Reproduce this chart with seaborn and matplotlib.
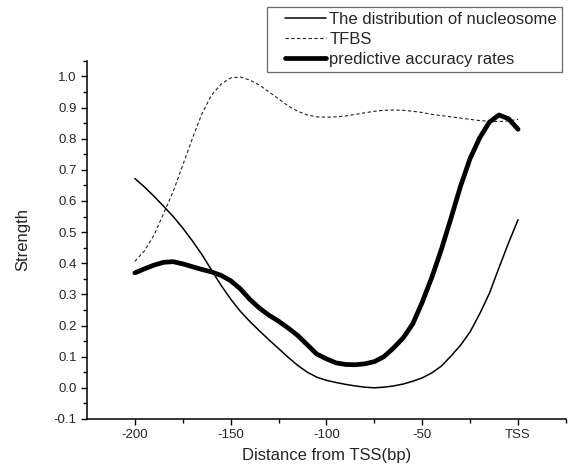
import matplotlib
matplotlib.use("Agg")
import matplotlib.pyplot as plt
from matplotlib.ticker import MultipleLocator, FixedLocator, FixedFormatter
from matplotlib.legend_handler import HandlerLine2D
import seaborn as sns

# distance from TSS (bp), sampled every 5 bp
distance = [-200, -195, -190, -185, -180, -175, -170, -165, -160, -155,
            -150, -145, -140, -135, -130, -125, -120, -115, -110, -105,
            -100, -95, -90, -85, -80, -75, -70, -65, -60, -55,
            -50, -45, -40, -35, -30, -25, -20, -15, -10, -5, 0]

nucleosome = [0.672, 0.645, 0.615, 0.583, 0.550, 0.513, 0.472, 0.428, 0.378, 0.329,
              0.285, 0.246, 0.213, 0.183, 0.154, 0.126, 0.098, 0.072, 0.050, 0.034,
              0.024, 0.017, 0.011, 0.006, 0.002, 0.000, 0.002, 0.006, 0.012, 0.021,
              0.032, 0.048, 0.070, 0.102, 0.137, 0.180, 0.238, 0.303, 0.385, 0.465, 0.540]

tfbs = [0.406, 0.440, 0.490, 0.560, 0.630, 0.715, 0.800, 0.880, 0.940, 0.975,
        0.995, 0.998, 0.988, 0.972, 0.950, 0.928, 0.905, 0.888, 0.876, 0.870,
        0.869, 0.870, 0.873, 0.878, 0.883, 0.888, 0.891, 0.892, 0.891, 0.888,
        0.884, 0.878, 0.874, 0.870, 0.866, 0.862, 0.858, 0.856, 0.855, 0.857, 0.862]

accuracy = [0.369, 0.382, 0.394, 0.403, 0.405, 0.398, 0.389, 0.380, 0.372, 0.361,
            0.344, 0.318, 0.284, 0.256, 0.233, 0.214, 0.192, 0.168, 0.138, 0.108,
            0.093, 0.080, 0.075, 0.074, 0.077, 0.084, 0.100, 0.128, 0.160, 0.205,
            0.275, 0.355, 0.445, 0.545, 0.648, 0.737, 0.803, 0.853, 0.876, 0.864, 0.830]

x_ticks = [-200, -150, -100, -50, 0]
x_tick_labels = ["-200", "-150", "-100", "-50", "TSS"]


class InsetLineHandler(HandlerLine2D):
    # legend sample line starts a bit right of the handle box
    def get_xdata(self, legend, xdescent, ydescent, width, height, fontsize):
        xdata, xdata_marker = super().get_xdata(legend, xdescent, ydescent, width, height, fontsize)
        xdata = [xdata[0] + 0.72 * fontsize, xdata[-1]]
        return xdata, xdata_marker


sns.set_theme(style="ticks")
plt.rcParams["font.family"] = ["Liberation Sans", "DejaVu Sans"]

fig = plt.figure(figsize=(5.72, 4.75), dpi=100)
ax = fig.add_axes([0.152, 0.118, 0.8375, 0.754])

sns.lineplot(x=distance, y=nucleosome, ax=ax, color="black", linewidth=1.1,
             label="The distribution of nucleosome")
sns.lineplot(x=distance, y=tfbs, ax=ax, color="#222222", linewidth=0.8,
             linestyle=(0, (3, 2.2)), label="TFBS")
sns.lineplot(x=distance, y=accuracy, ax=ax, color="black", linewidth=3.4,
             label="predictive accuracy rates")
for line in ax.get_lines():
    line.set_solid_joinstyle("round")
    line.set_solid_capstyle("round")

ax.set_xlim(-225, 25)
ax.set_ylim(-0.1, 1.05)
ax.xaxis.set_major_locator(FixedLocator(x_ticks))
ax.xaxis.set_major_formatter(FixedFormatter(x_tick_labels))
ax.xaxis.set_minor_locator(FixedLocator([-175, -125, -75, -25, 25]))
ax.yaxis.set_major_locator(MultipleLocator(0.1))
ax.yaxis.set_minor_locator(MultipleLocator(0.05))
ax.yaxis.set_major_formatter(plt.FuncFormatter(lambda v, p: f"{v:.1f}"))

sns.despine(ax=ax)
for s in ["left", "bottom"]:
    ax.spines[s].set_linewidth(1.1)
    ax.spines[s].set_color("black")
ax.tick_params(which="major", length=4.5, width=1.0, labelsize=9.5, pad=3, color="black")
ax.tick_params(which="minor", length=3, width=1.0, color="black")

ax.set_xlabel("Distance from TSS(bp)", fontsize=12, labelpad=5)
ax.set_ylabel("Strength", fontsize=12, labelpad=17)

handles, labels = ax.get_legend_handles_labels()
leg = ax.legend(handles, labels, loc="upper right", bbox_to_anchor=(0.983, 0.986),
                bbox_transform=fig.transFigure, frameon=True, fancybox=False,
                fontsize=12, handlelength=3.2, handletextpad=0.2, labelspacing=0.3,
                borderpad=0.32, borderaxespad=0,
                handler_map={h: InsetLineHandler() for h in handles})
leg.get_frame().set_edgecolor("#444444")
leg.get_frame().set_linewidth(0.9)

fig.savefig("out.png", dpi=100)
